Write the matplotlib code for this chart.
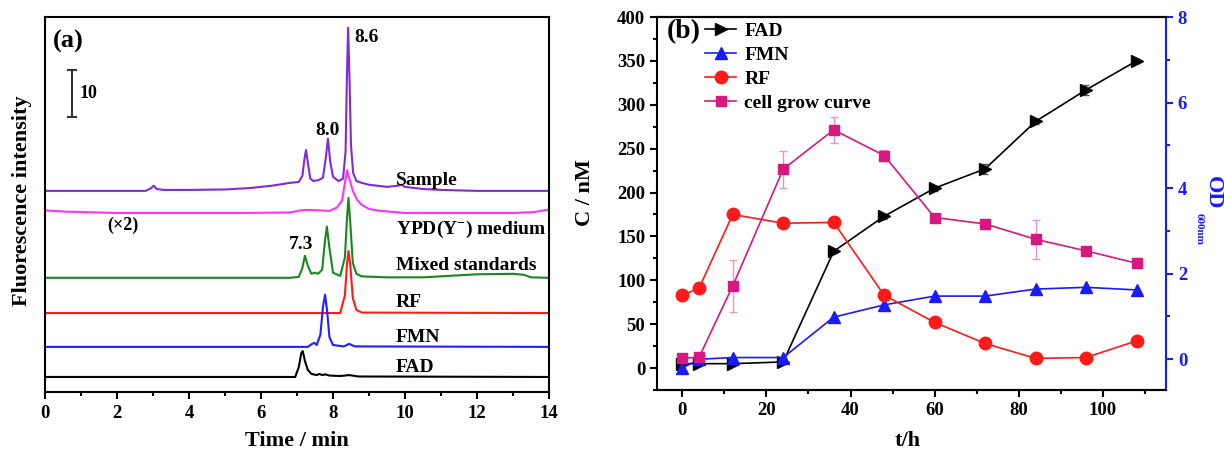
import numpy as np
import matplotlib
matplotlib.use('Agg')
from matplotlib import pyplot as plt
from matplotlib.ticker import MultipleLocator

plt.rcParams['font.family'] = ['Liberation Serif', 'DejaVu Serif']
plt.rcParams['font.weight'] = 'bold'
plt.rcParams['axes.labelweight'] = 'bold'
plt.rcParams['mathtext.fontset'] = 'custom'
plt.rcParams['mathtext.rm'] = 'Liberation Serif:bold'
plt.rcParams['mathtext.it'] = 'Liberation Serif:bold'
plt.rcParams['mathtext.bf'] = 'Liberation Serif:bold'

# ---- (a) chromatograms: time (min) / intensity above each trace's baseline
t_sample = [0, 2.8, 2.95, 3.02, 3.1, 3.3, 4.0, 5.0, 5.7, 6.3, 6.8, 7.05, 7.15, 7.2, 7.25, 7.3, 7.37,
            7.45, 7.6, 7.72, 7.8, 7.86, 7.92, 8.0, 8.15, 8.28, 8.35, 8.39, 8.42, 8.46, 8.5, 8.56, 8.65,
            8.8, 9.0, 9.5, 9.8, 9.9, 10.0, 10.5, 11.0, 12.0, 14.0]
i_sample = [0, 0, 0.6, 1.1, 0.4, 0.2, 0.2, 0.3, 0.6, 1.1, 1.7, 1.9, 3.2, 6.4, 8.7, 6.0, 2.6,
            2.1, 2.3, 2.8, 7.0, 11.1, 6.4, 3.0, 2.1, 2.6, 8.5, 25.5, 34.7, 23.4, 9.6, 3.8, 2.1,
            1.7, 1.3, 0.85, 1.1, 1.3, 0.85, 0.4, 0.2, 0, 0]

t_ypd = [0, 0.5, 1.0, 2.0, 5.5, 6.8, 7.1, 7.3, 7.6, 7.9, 8.1, 8.25, 8.33, 8.39, 8.45, 8.55, 8.67,
         8.8, 9.0, 9.3, 9.7, 10.0, 13.0, 13.6, 14.0]
i_ypd = [0.55, 0.3, 0.2, 0, 0, 0.1, 0.55, 0.65, 0.55, 0.45, 1.1, 2.6, 6.4, 9.1, 7.4, 4.7, 2.8,
         1.7, 0.85, 0.45, 0.2, 0, 0, 0.2, 0.75]

t_mix = [0, 6.8, 7.05, 7.15, 7.22, 7.3, 7.4, 7.5, 7.58, 7.7, 7.77, 7.83, 7.9, 8.0, 8.2, 8.33, 8.39,
         8.43, 8.48, 8.55, 8.65, 8.8, 9.5, 10.5, 11.2, 12.0, 13.0, 13.3, 13.5, 14]
i_mix = [0, 0, 0.2, 2.1, 4.7, 2.6, 0.85, 1.1, 0.85, 1.7, 7.4, 10.9, 6.4, 1.1, 0.4, 4.3, 12.8,
         17.0, 11.7, 3.2, 0.85, 0.3, 0.1, 0.1, 0.4, 0.75, 0.85, 0.65, 0.1, 0]

t_rf = [0, 8.2, 8.33, 8.39, 8.43, 8.48, 8.55, 8.65, 8.8, 14]
i_rf = [0, 0, 3.8, 10.6, 13.2, 10.2, 3.2, 0.65, 0.1, 0]

t_fmn = [0, 7.3, 7.42, 7.48, 7.55, 7.65, 7.72, 7.78, 7.84, 7.9, 8.0, 8.3, 8.45, 8.6, 14]
i_fmn = [0, 0, 0.65, 0.85, 0.4, 2.6, 8.5, 11.1, 7.4, 2.1, 0.4, 0.1, 0.65, 0.1, 0]

t_fad = [0, 6.95, 7.05, 7.12, 7.16, 7.22, 7.3, 7.4, 7.55, 7.62, 7.7, 7.78, 7.9, 8.2, 8.45, 8.7, 14]
i_fad = [0, 0, 2.1, 5.1, 5.5, 3.4, 1.5, 0.65, 0.4, 0.65, 0.4, 0.55, 0.3, 0.2, 0.4, 0.1, 0]

# vertical stacking offsets of the traces
off_sample, off_ypd, off_mix, off_rf, off_fmn, off_fad = 42.8, 38.1, 24.3, 16.8, 9.6, 3.2

# ---- (b) time course
hours = [0, 4, 12, 24, 36, 48, 60, 72, 84, 96, 108]
fad = [5, 5, 5, 7, 133, 173, 205, 227, 281, 317, 350]
fad_err = [0, 0, 0, 0, 2, 3, 3, 6, 3, 6, 2]
fmn = [0, 10, 12, 12, 58, 72, 82, 82, 90, 92, 89]
rf = [83, 91, 175, 165, 166, 83, 52, 28, 11, 12, 31]
od = [0.02, 0.04, 1.71, 4.44, 5.36, 4.76, 3.31, 3.16, 2.80, 2.53, 2.24]
od_err = [0.03, 0.03, 0.6, 0.43, 0.3, 0.12, 0.05, 0.12, 0.45, 0.05, 0.12]

W, H = 1224, 457
fig = plt.figure(figsize=(W / 100, H / 100), dpi=100)

ax1 = fig.add_axes([45 / W, 1 - 392 / H, 504 / W, 375 / H])
ax1.plot(t_sample, np.array(i_sample) + off_sample, color='#8329d6', lw=1.5)
ax1.plot(t_ypd, np.array(i_ypd) + off_ypd, color='#ff33ff', lw=1.5)
ax1.plot(t_mix, np.array(i_mix) + off_mix, color='#18881c', lw=1.5)
ax1.plot(t_rf, np.array(i_rf) + off_rf, color='#ff1a1a', lw=1.5)
ax1.plot(t_fmn, np.array(i_fmn) + off_fmn, color='#1f1fff', lw=1.5)
ax1.plot(t_fad, np.array(i_fad) + off_fad, color='black', lw=1.5)
ax1.set_xlim(0, 14)
ax1.set_ylim(0, 79.8)
ax1.set_yticks([])
ax1.xaxis.set_major_locator(MultipleLocator(2))
ax1.xaxis.set_minor_locator(MultipleLocator(1))
ax1.tick_params(axis='x', which='major', direction='out', length=5, width=1.5, labelsize=13.5, pad=4)
ax1.tick_params(axis='x', which='minor', direction='out', length=3, width=1.5)
for s in ax1.spines.values():
    s.set_linewidth(1.5)

fs = 14
ax1.text(8.94, 75.5, '8.6', fontsize=fs, ha='center', va='center')
ax1.text(7.86, 55.7, '8.0', fontsize=fs, ha='center', va='center')
ax1.text(7.11, 31.3, '7.3', fontsize=fs, ha='center', va='center')
ax1.text(9.75, 45.1, 'Sample', fontsize=fs, ha='left', va='center')
ax1.text(9.75, 34.5, 'YPD(Y$^{-}$) medium', fontsize=fs, ha='left', va='center')
ax1.text(9.75, 27.0, 'Mixed standards', fontsize=fs, ha='left', va='center')
ax1.text(9.75, 19.1, 'RF', fontsize=fs, ha='left', va='center')
ax1.text(9.75, 11.5, 'FMN', fontsize=fs, ha='left', va='center')
ax1.text(9.75, 5.3, 'FAD', fontsize=fs, ha='left', va='center')
ax1.text(2.15, 35.5, '(×2)', fontsize=13, ha='center', va='center')
ax1.text(0.22, 74.6, '(a)', fontsize=19, ha='left', va='center')
# scale bar of 10 intensity units
ax1.plot([0.75, 0.75], [58.5, 68.5], color='#333333', lw=1.5)
ax1.plot([0.64, 0.86], [58.5, 58.5], color='#333333', lw=1.5)
ax1.plot([0.64, 0.86], [68.5, 68.5], color='#333333', lw=1.5)
ax1.text(0.97, 63.6, '10', fontsize=13, ha='left', va='center')
ax1.text(-0.0456, 0.51, 'Fluorescence intensity', transform=ax1.transAxes, rotation=90,
         fontsize=16, ha='center', va='center')
fig.text(297 / W, 1 - 441 / H, 'Time / min', fontsize=16, ha='center', va='center')

# ---- (b)
ax2 = fig.add_axes([657 / W, 1 - 390 / H, 509 / W, 373 / H])
ax3 = ax2.twinx()
ax2.errorbar(hours, fad, yerr=fad_err, fmt='none', ecolor='#555555', elinewidth=1, capsize=2.5)
l_fad, = ax2.plot(hours, fad, color='black', marker='>', ms=8, lw=1.2)
l_fmn, = ax2.plot(hours, fmn, color='#1a1aff', marker='^', ms=9, lw=1.2)
l_rf, = ax2.plot(hours, rf, color='#ff1a1a', marker='o', ms=9, lw=1.2)
ax3.errorbar(hours, od, yerr=od_err, fmt='none', ecolor='#f090c4', elinewidth=1, capsize=3)
l_od, = ax3.plot(hours, od, color='#d6187f', marker='s', ms=7, lw=1.2)

ax2.set_xlim(-6, 115)
ax2.xaxis.set_major_locator(MultipleLocator(20))
ax2.xaxis.set_minor_locator(MultipleLocator(10))
ax2.yaxis.set_minor_locator(MultipleLocator(25))
ax3.yaxis.set_minor_locator(MultipleLocator(1))
ax2.set_yticks(np.arange(0, 401, 50))
ax2.set_ylim(-25, 400)
ax2.tick_params(which='major', direction='out', length=5, width=1.5, labelsize=13.5)
ax2.tick_params(which='minor', direction='out', length=3, width=1.5)
ax3.tick_params(which='major', direction='out', length=5, width=1.5, labelsize=13.5,
                colors='#1a1aff')
ax3.tick_params(which='minor', direction='out', length=3, width=1.5, colors='#1a1aff')
ax3.set_yticks(np.arange(0, 9, 2))
ax3.set_ylim(-0.725, 8)
for s in ax2.spines.values():
    s.set_linewidth(1.5)
for s in ax3.spines.values():
    s.set_linewidth(1.5)
ax3.spines['right'].set_color('#1a1aff')
ax3.spines['left'].set_visible(False)
ax2.spines['right'].set_visible(False)

ax2.text(0.02, 0.962, '(b)', transform=ax2.transAxes, fontsize=20, ha='left', va='center')
ax2.text(-0.141, 0.53, 'C / nM', transform=ax2.transAxes, rotation=90, fontsize=16,
         ha='center', va='center')
fig.text(908 / W, 1 - 441 / H, 't/h', fontsize=16, ha='center', va='center')
fig.text(1213 / W, 1 - 193 / H, 'OD', fontsize=16, rotation=270, ha='center', va='center',
         color='#1a1aff')
fig.text(1199 / W, 1 - 229 / H, '600nm', fontsize=8, rotation=270, ha='center', va='center',
         color='#1a1aff')

leg = ax3.legend([l_fad, l_fmn, l_rf, l_od], ['FAD', 'FMN', 'RF', 'cell grow curve'],
                 loc='upper left', bbox_to_anchor=(0.095, 0.985), frameon=False, fontsize=14,
                 handlelength=1.6, handletextpad=0.4, labelspacing=0.33, borderpad=0,
                 borderaxespad=0)

fig.savefig('out.png', dpi=100)
